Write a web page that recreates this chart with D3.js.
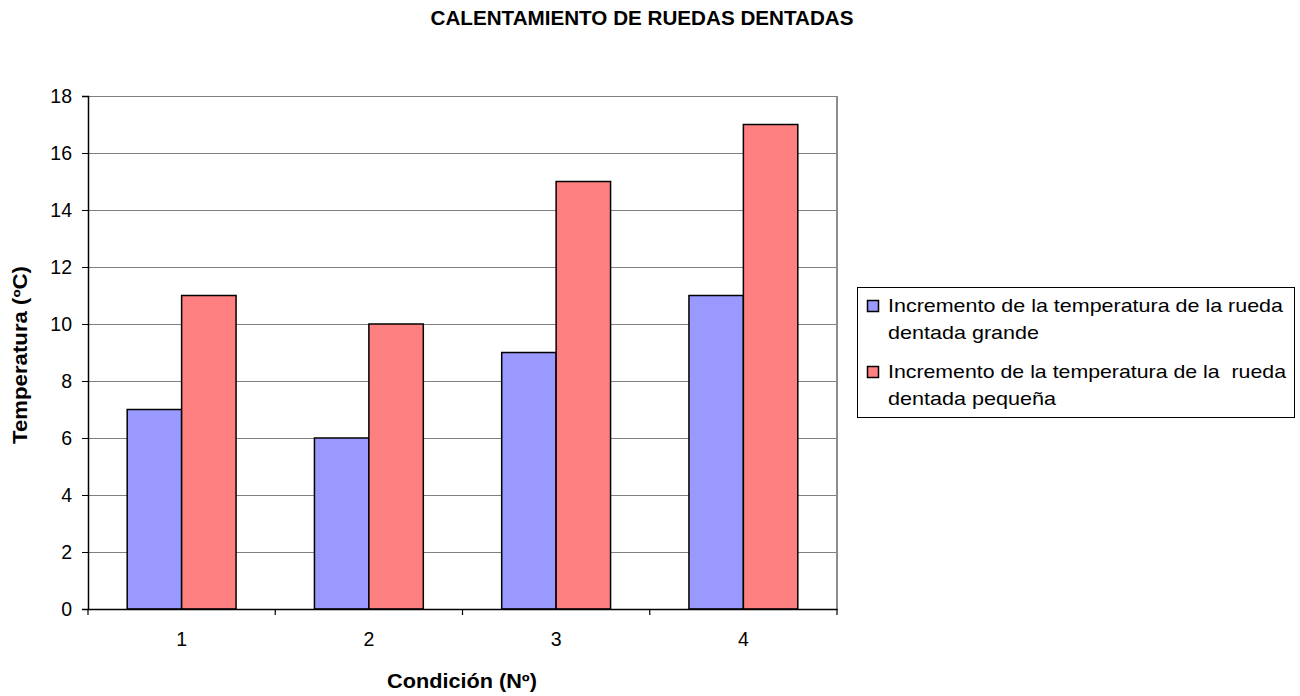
<!DOCTYPE html>
<html>
<head>
<meta charset="utf-8">
<script src="https://cdn.jsdelivr.net/npm/d3@7"></script>
<style>
  html, body { margin: 0; padding: 0; background: #fff; }
  svg { display: block; font-family: "Liberation Sans", Arial, sans-serif; }
</style>
</head>
<body>
<svg id="chart" width="1300" height="696"></svg>
<script>
// Temperature increase per test condition for each gear wheel
const categories = ["1", "2", "3", "4"];
const seriesNames = [
  ["Incremento de la temperatura de la rueda", "dentada grande"],
  ["Incremento de la temperatura de la  rueda", "dentada pequeña"]
];
const largeGear = [7, 6, 9, 11];
const smallGear = [11, 10, 15, 17];
const yTicks = [0, 2, 4, 6, 8, 10, 12, 14, 16, 18];
const colors = ["#9999FF", "#FF8080"];

const series = [largeGear, smallGear];
const svg = d3.select("#chart");
const FONT = "'Liberation Sans', Arial, sans-serif";

const plot = { left: 88, right: 837, top: 96, bottom: 609 };

const x0 = d3.scaleBand().domain(categories).range([plot.left, plot.right]).padding(0);
const x1 = d3.scaleBand().domain([0, 1]).range([0, x0.bandwidth()])
  .paddingInner(0).paddingOuter(0.72);
const y = d3.scaleLinear().domain([0, 18]).range([plot.bottom, plot.top]);

// Title
svg.append("text")
  .attr("x", 642).attr("y", 25)
  .attr("text-anchor", "middle")
  .attr("font-size", 19.5).attr("font-weight", "bold")
  .attr("textLength", 423).attr("lengthAdjust", "spacingAndGlyphs")
  .text("CALENTAMIENTO DE RUEDAS DENTADAS");

// Horizontal gridlines
svg.append("g")
  .selectAll("line")
  .data(yTicks.filter(d => d > 0))
  .join("line")
  .attr("x1", plot.left).attr("x2", plot.right)
  .attr("y1", d => y(d) + 0.5).attr("y2", d => y(d) + 0.5)
  .attr("stroke", "#808080").attr("stroke-width", 1);

// Right border of plot area
svg.append("line")
  .attr("x1", plot.right).attr("x2", plot.right)
  .attr("y1", plot.top).attr("y2", plot.bottom)
  .attr("stroke", "#8c8c8c").attr("stroke-width", 2);

// Bars
const groups = svg.append("g")
  .selectAll("g")
  .data(categories)
  .join("g")
  .attr("transform", d => `translate(${x0(d)},0)`);

groups.selectAll("rect")
  .data((c, i) => series.map((s, k) => ({ k, v: s[i] })))
  .join("rect")
  .attr("x", d => x1(d.k))
  .attr("width", x1.bandwidth())
  .attr("y", d => y(d.v))
  .attr("height", d => y(0) - y(d.v))
  .attr("fill", d => colors[d.k])
  .attr("stroke", "#000").attr("stroke-width", 1.5);

// Y axis
const yAxis = svg.append("g")
  .attr("transform", `translate(${plot.left},0)`)
  .call(d3.axisLeft(y).tickValues(yTicks).tickSize(6).tickPadding(10).tickFormat(d3.format("d")));
yAxis.select(".domain").attr("stroke", "#000").attr("stroke-width", 1.5);
yAxis.selectAll(".tick line").attr("stroke", "#000");
yAxis.selectAll("text").attr("font-size", 19.5).attr("fill", "#000").attr("font-family", FONT);

// X axis
const xAxis = svg.append("g")
  .attr("transform", `translate(0,${plot.bottom})`)
  .call(d3.axisBottom(x0).tickSize(0).tickPadding(23));
xAxis.select(".domain").attr("stroke", "#000").attr("stroke-width", 1.5);
xAxis.selectAll("text").attr("font-size", 19.5).attr("fill", "#000").attr("font-family", FONT);
// Tick marks at category boundaries
const bounds = categories.map(c => x0(c)).concat([x0(categories[categories.length - 1]) + x0.bandwidth()]);
xAxis.selectAll(".bound")
  .data(bounds)
  .join("line")
  .attr("class", "bound")
  .attr("x1", d => d).attr("x2", d => d)
  .attr("y1", 0).attr("y2", 6)
  .attr("stroke", "#000").attr("stroke-width", 1.2);

// Axis titles
svg.append("text")
  .attr("x", 462).attr("y", 688)
  .attr("text-anchor", "middle")
  .attr("font-size", 19.5).attr("font-weight", "bold")
  .attr("textLength", 150).attr("lengthAdjust", "spacingAndGlyphs")
  .text("Condición (Nº)");

svg.append("text")
  .attr("transform", `translate(27,355) rotate(-90)`)
  .attr("text-anchor", "middle")
  .attr("font-size", 19.5).attr("font-weight", "bold")
  .attr("textLength", 178).attr("lengthAdjust", "spacingAndGlyphs")
  .text("Temperatura (ºC)");

// Legend
const legend = svg.append("g");
legend.append("rect")
  .attr("x", 857.5).attr("y", 287.5)
  .attr("width", 437).attr("height", 130)
  .attr("fill", "#fff").attr("stroke", "#000").attr("stroke-width", 1);

const rowY = [312, 378];
const lineWidths = [[395, 151], [398, 168]];
seriesNames.forEach((lines, k) => {
  legend.append("rect")
    .attr("x", 867.5).attr("y", rowY[k] - 11.5)
    .attr("width", 11).attr("height", 11)
    .attr("fill", colors[k]).attr("stroke", "#000").attr("stroke-width", 1.5);
  lines.forEach((t, j) => {
    legend.append("text")
      .attr("x", 888).attr("y", rowY[k] + j * 27)
      .attr("font-size", 19)
      .attr("textLength", lineWidths[k][j]).attr("lengthAdjust", "spacingAndGlyphs")
      .style("white-space", "pre")
      .text(t);
  });
});
</script>
</body>
</html>
